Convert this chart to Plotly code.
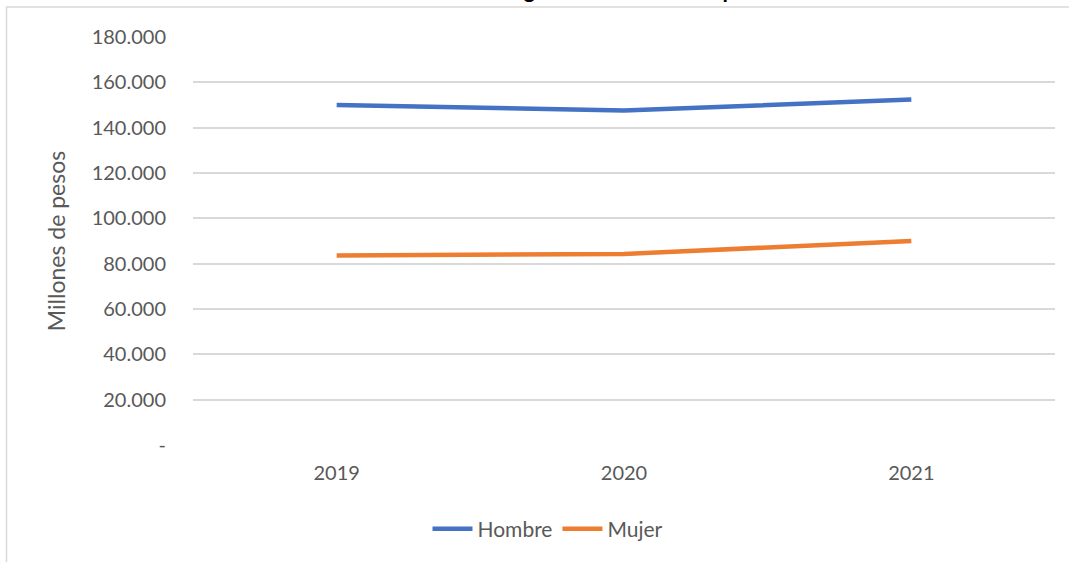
import plotly.graph_objects as go

years = ["2019", "2020", "2021"]
hombre = [150000, 147600, 152400]
mujer = [83600, 84300, 90000]
tick_vals = [0, 20000, 40000, 60000, 80000, 100000, 120000, 140000, 160000, 180000]
tick_text = ["-", "20.000", "40.000", "60.000", "80.000", "100.000", "120.000", "140.000", "160.000", "180.000"]

FONT = "Lato"
GRAY = "#595959"

fig = go.Figure()
fig.add_trace(go.Scatter(x=years, y=hombre, mode="lines", name="Hombre",
                         line=dict(color="#4472C4", width=4.5)))
fig.add_trace(go.Scatter(x=years, y=mujer, mode="lines", name="Mujer",
                         line=dict(color="#ED7D31", width=4.5)))

L, R, T, B = 193, 14, 37, 117
W, H = 1069, 562
pw, ph = W - L - R, H - T - B

def px(x):
    return (x - L) / pw

def py(y):
    return (H - B - y) / ph

fig.update_layout(
    width=W, height=H,
    margin=dict(l=L, r=R, t=T, b=B),
    paper_bgcolor="white", plot_bgcolor="white",
    font=dict(family=FONT, color=GRAY, size=21),
    showlegend=True,
    legend=dict(orientation="h", x=px(548), xanchor="center", y=py(529), yanchor="middle",
                font=dict(size=21, color=GRAY), itemwidth=40, tracegroupgap=0),
    xaxis=dict(type="category", range=[-0.5, 2.5], showgrid=False, showline=False,
               ticks="", ticklabelstandoff=14, tickfont=dict(size=20, color=GRAY)),
    yaxis=dict(range=[0, 180000], tickvals=tick_vals, ticktext=tick_text,
               showgrid=True, gridcolor="#D9D9D9", gridwidth=1.5, zeroline=False,
               showline=False, ticks="", ticklabelstandoff=26, tickfont=dict(size=20, color=GRAY),
               title=dict(text="Millones de pesos", font=dict(size=23, color=GRAY), standoff=19)),
    shapes=[dict(type="rect", xref="paper", yref="paper",
                 x0=px(6.5), x1=px(1100), y0=py(600), y1=py(7),
                 line=dict(color="#D9D9D9", width=1.5), fillcolor="rgba(0,0,0,0)", layer="below")],
    annotations=[dict(text="<b>Gráfico 4. Monto otorgado en millones de pesos</b>",
                      xref="paper", yref="paper", x=px(545), y=py(5),
                      xanchor="center", yanchor="bottom", showarrow=False,
                      font=dict(size=22, color="black", family=FONT))],
)

fig.write_html("out.html", config={"displayModeBar": False},
               post_script="document.body.style.margin='0';")
